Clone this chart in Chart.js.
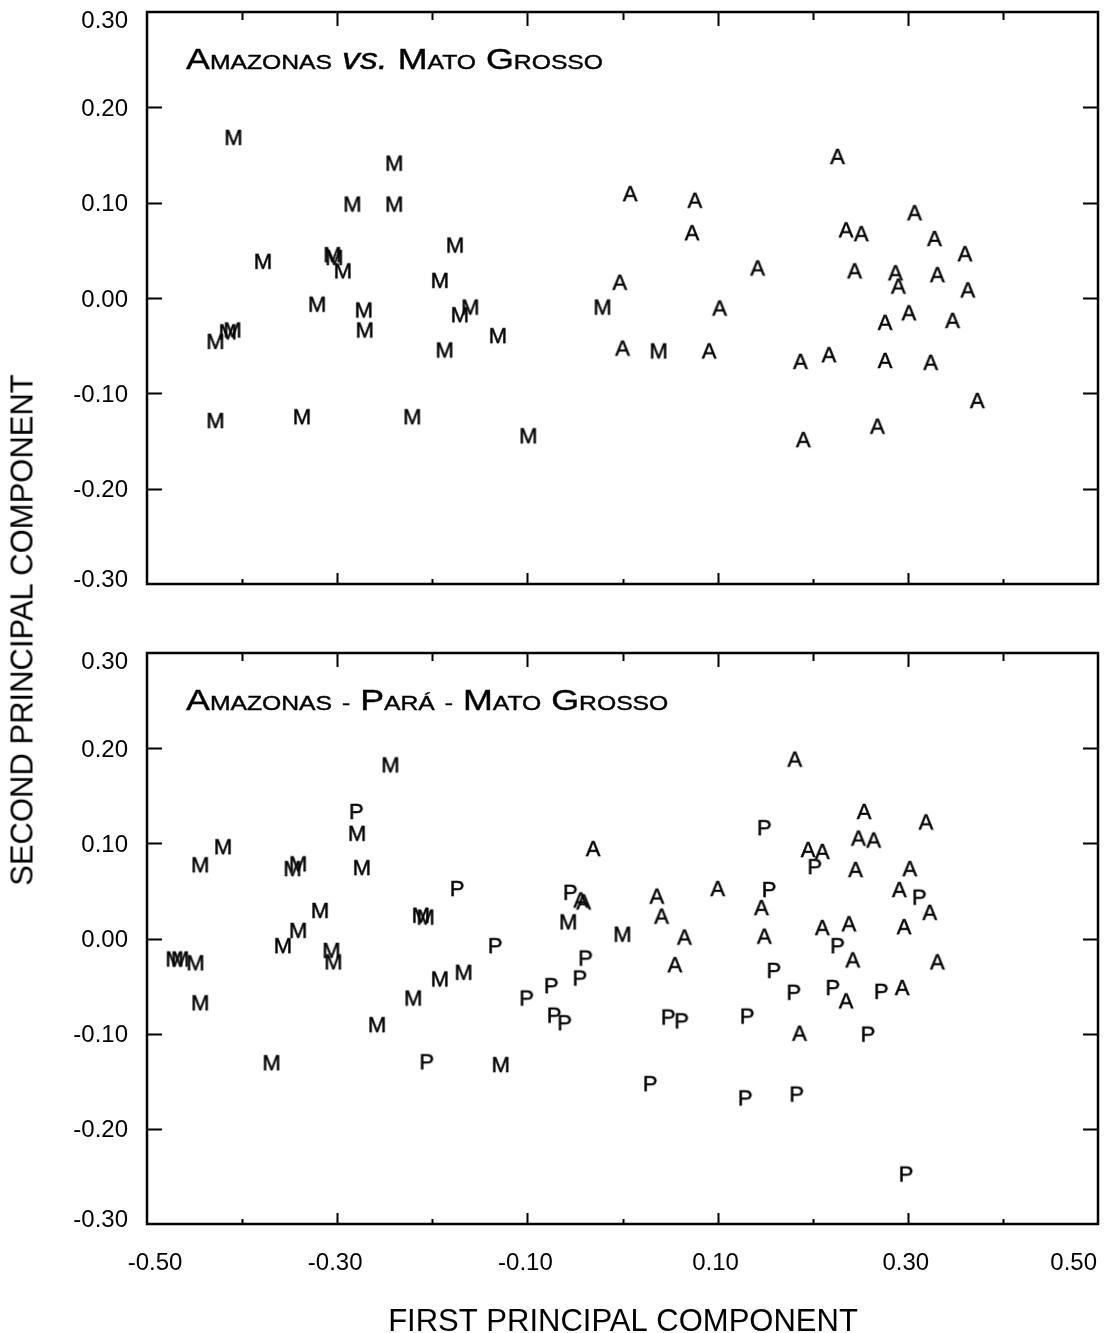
<!DOCTYPE html>
<html>
<head>
<meta charset="utf-8">
<script src="https://cdn.jsdelivr.net/npm/chart.js@4.4.1/dist/chart.umd.min.js"></script>
<style>
  html, body { margin: 0; padding: 0; background: #fff; }
  #page { position: relative; width: 1113px; height: 1333px; overflow: hidden; background: #fff; }
  #page canvas { position: absolute; left: 0; }
  #topPanel { top: 0; }
  #bottomPanel { top: 620px; }
  #yTitle {
    position: absolute; left: 22px; top: 630px;
    transform: translate(-50%, -50%) rotate(-90deg);
    font: 31px "Liberation Sans", Arial, sans-serif;
    color: #000; white-space: nowrap; line-height: 1;
  }
</style>
</head>
<body>
<div id="page">
  <canvas id="topPanel" width="1113" height="620"></canvas>
  <canvas id="bottomPanel" width="1113" height="713"></canvas>
  <div id="yTitle">SECOND PRINCIPAL COMPONENT</div>
</div>
<script>
// ---- axis ticks and labels ----
const xMajorTicks = [-0.30, -0.10, 0.10, 0.30];
const xMinorTicks = [-0.40, -0.20, 0.00, 0.20, 0.40];
const xLabelValues = [-0.50, -0.30, -0.10, 0.10, 0.30, 0.50];
const xLabels = ['-0.50', '-0.30', '-0.10', '0.10', '0.30', '0.50'];
const yTickValues = [0.30, 0.20, 0.10, 0.00, -0.10, -0.20, -0.30];
const yLabels = ['0.30', '0.20', '0.10', '0.00', '-0.10', '-0.20', '-0.30'];
const xAxisTitle = 'FIRST PRINCIPAL COMPONENT';

// ---- panel headings ----
const topHeading = 'Amazonas vs. Mato Grosso';
const bottomHeading = 'Amazonas - Pará - Mato Grosso';

// ---- top panel: Amazonas (A) vs. Mato Grosso (M) ----
const topAmazonas = [
  [0.008, 0.110], [0.076, 0.103], [0.226, 0.149], [0.073, 0.069], [0.307, 0.090],
  [0.235, 0.072], [0.251, 0.068], [0.328, 0.063], [0.360, 0.047], [0.142, 0.032],
  [0.244, 0.029], [0.287, 0.027], [0.290, 0.013], [0.331, 0.025], [0.363, 0.009],
  [-0.003, 0.017], [0.102, -0.010], [0.000, -0.052], [0.091, -0.055], [0.187, -0.066],
  [0.217, -0.059], [0.276, -0.065], [0.324, -0.067], [0.276, -0.025], [0.301, -0.015],
  [0.347, -0.023], [0.373, -0.107], [0.268, -0.134], [0.190, -0.148]
];
const topMatoGrosso = [
  [-0.409, 0.169], [-0.240, 0.142], [-0.284, 0.099], [-0.240, 0.099], [-0.176, 0.056],
  [-0.378, 0.039], [-0.305, 0.046], [-0.303, 0.043], [-0.294, 0.029], [-0.192, 0.019],
  [-0.321, -0.006], [-0.272, -0.012], [-0.271, -0.033], [-0.171, -0.017], [-0.160, -0.009],
  [-0.131, -0.039], [-0.187, -0.054], [-0.021, -0.009], [-0.428, -0.045], [-0.415, -0.035],
  [-0.410, -0.033], [-0.428, -0.128], [-0.337, -0.124], [-0.221, -0.124], [-0.099, -0.144],
  [0.038, -0.055]
];

// ---- bottom panel: Amazonas (A), Pará (P), Mato Grosso (M) ----
const bottomAmazonas = [
  [0.181, 0.189], [0.254, 0.134], [0.319, 0.123], [0.248, 0.106], [0.264, 0.104],
  [0.195, 0.094], [0.210, 0.092], [0.245, 0.073], [0.302, 0.074], [0.100, 0.053],
  [0.146, 0.033], [0.291, 0.052], [0.323, 0.028], [0.036, 0.045], [0.041, 0.024],
  [0.210, 0.012], [0.238, 0.016], [0.296, 0.013], [0.065, 0.002], [0.149, 0.003],
  [0.242, -0.022], [0.331, -0.024], [0.055, -0.027], [0.235, -0.065], [0.294, -0.051],
  [0.186, -0.099], [-0.031, 0.095], [-0.044, 0.041], [-0.041, 0.039]
];
const bottomPara = [
  [-0.280, 0.134], [-0.174, 0.053], [-0.055, 0.049], [-0.134, -0.007], [-0.039, -0.020],
  [-0.045, -0.041], [-0.075, -0.049], [-0.101, -0.062], [-0.072, -0.080], [-0.061, -0.088],
  [-0.206, -0.129], [0.149, 0.117], [0.202, 0.076], [0.154, 0.052], [0.312, 0.044],
  [0.226, -0.007], [0.159, -0.033], [0.180, -0.056], [0.221, -0.051], [0.272, -0.055],
  [0.048, -0.082], [0.062, -0.086], [0.131, -0.081], [0.258, -0.100], [0.029, -0.152],
  [0.129, -0.167], [0.183, -0.163], [0.298, -0.247]
];
const bottomMatoGrosso = [
  [-0.244, 0.183], [-0.279, 0.111], [-0.420, 0.097], [-0.444, 0.078], [-0.347, 0.074],
  [-0.341, 0.079], [-0.274, 0.075], [-0.057, 0.018], [-0.318, 0.030], [-0.341, 0.009],
  [-0.212, 0.025], [-0.207, 0.023], [0.000, 0.005], [-0.357, -0.007], [-0.306, -0.012],
  [-0.304, -0.024], [-0.471, -0.021], [-0.465, -0.021], [-0.449, -0.025], [-0.444, -0.067],
  [-0.369, -0.130], [-0.258, -0.090], [-0.220, -0.062], [-0.192, -0.042], [-0.167, -0.035],
  [-0.128, -0.132]
];

const FONT = '"Liberation Sans", Arial, Helvetica, sans-serif';

// Each observation is plotted as its state letter, centred on the point.
function letterMarker(ch) {
  const size = 22;
  const c = document.createElement('canvas');
  c.width = 32; c.height = 32;
  const g = c.getContext('2d');
  g.fillStyle = '#000';
  g.strokeStyle = '#000';
  g.lineWidth = 0.5;
  g.font = size + 'px ' + FONT;
  g.textAlign = 'center';
  g.textBaseline = 'alphabetic';
  const by = 16 + 0.716 * size / 2;
  g.fillText(ch, 16, by);
  g.strokeText(ch, 16, by);
  return c;
}

function letterSeries(label, ch, pts) {
  return {
    label: label,
    data: pts.map(([x, y]) => ({ x, y })),
    pointStyle: letterMarker(ch),
    pointRadius: 8,
    pointHoverRadius: 8,
    showLine: false,
    clip: false
  };
}

// Small-caps heading: first letter of each word large, the rest smaller capitals.
function drawHeading(ctx, text, x, baseline) {
  const big = 29, small = 20, stretch = 1.235;
  ctx.save();
  ctx.translate(x, baseline);
  ctx.scale(stretch, 1);
  ctx.fillStyle = '#000';
  ctx.strokeStyle = '#000';
  ctx.lineWidth = 0.4;
  ctx.textBaseline = 'alphabetic';
  ctx.textAlign = 'left';
  let cx = 0;
  const put = (t, font) => {
    ctx.font = font;
    ctx.fillText(t, cx, 0);
    ctx.strokeText(t, cx, 0);
    cx += ctx.measureText(t).width;
  };
  const words = text.split(' ');
  words.forEach((w, i) => {
    if (i > 0) put(' ', big + 'px ' + FONT);
    if (w === 'vs.') {
      put(w, 'italic ' + big + 'px ' + FONT);
    } else if (w === '-') {
      put('-', small + 'px ' + FONT);
    } else {
      put(w[0].toUpperCase(), big + 'px ' + FONT);
      if (w.length > 1) put(w.slice(1).toUpperCase(), small + 'px ' + FONT);
    }
  });
  ctx.restore();
}

// Box frame, inward ticks, tick labels and headings, all placed through the chart's scales.
const framePlugin = {
  id: 'panelFrame',
  afterDatasetsDraw(chart, args, opts) {
    const ctx = chart.ctx;
    const { left, right, top, bottom } = chart.chartArea;
    const xs = chart.scales.x, ys = chart.scales.y;
    ctx.save();
    ctx.strokeStyle = '#000';
    ctx.fillStyle = '#000';

    // frame
    ctx.lineWidth = 2.5;
    ctx.strokeRect(left, top, right - left, bottom - top);

    // ticks
    ctx.lineWidth = 2;
    ctx.beginPath();
    yTickValues.forEach(v => {
      if (v === 0.30 || v === -0.30) return;
      const py = Math.round(ys.getPixelForValue(v)) + 0.5;
      ctx.moveTo(left, py); ctx.lineTo(left + 15, py);
      ctx.moveTo(right, py); ctx.lineTo(right - 15, py);
    });
    xMajorTicks.forEach(v => {
      const px = Math.round(xs.getPixelForValue(v)) + 0.5;
      ctx.moveTo(px, top); ctx.lineTo(px, top + 14);
      ctx.moveTo(px, bottom); ctx.lineTo(px, bottom - 11);
    });
    xMinorTicks.forEach(v => {
      const px = Math.round(xs.getPixelForValue(v)) + 0.5;
      ctx.moveTo(px, top); ctx.lineTo(px, top + 8);
      ctx.moveTo(px, bottom); ctx.lineTo(px, bottom - 5);
    });
    ctx.stroke();

    // y tick labels
    ctx.font = '24px ' + FONT;
    ctx.textAlign = 'right';
    ctx.textBaseline = 'alphabetic';
    yTickValues.forEach((v, i) => {
      let py = ys.getPixelForValue(v);
      if (i === 0) py += 7;
      if (i === yTickValues.length - 1) py -= 6;
      ctx.fillText(yLabels[i], 128, py + 8.6);
    });

    // x tick labels and axis title (bottom panel only)
    if (opts.xLabels) {
      xLabelValues.forEach((v, i) => {
        let px = xs.getPixelForValue(v) - 2;
        ctx.textAlign = 'center';
        if (i === 0) px += 10;
        if (i === xLabelValues.length - 1) { ctx.textAlign = 'right'; px += 1; }
        ctx.fillText(xLabels[i], px, bottom + 46);
      });
      ctx.font = '31px ' + FONT;
      ctx.textAlign = 'center';
      ctx.fillText(xAxisTitle, 623, bottom + 107);
    }

    drawHeading(ctx, opts.heading, 186, top + 57);
    ctx.restore();
  }
};

function makePanel(canvasId, datasets, heading, padding, xLabelsOn) {
  return new Chart(document.getElementById(canvasId), {
    type: 'scatter',
    data: { datasets: datasets },
    options: {
      responsive: false,
      animation: false,
      devicePixelRatio: 1,
      layout: { padding: padding },
      scales: {
        x: { type: 'linear', min: -0.5, max: 0.5, display: false },
        y: { type: 'linear', min: -0.3, max: 0.3, display: false }
      },
      plugins: {
        legend: { display: false },
        tooltip: { enabled: false },
        panelFrame: { heading: heading, xLabels: xLabelsOn }
      }
    },
    plugins: [framePlugin]
  });
}

makePanel('topPanel', [
  letterSeries('Amazonas', 'A', topAmazonas),
  letterSeries('Mato Grosso', 'M', topMatoGrosso)
], topHeading, { left: 147, right: 15, top: 12, bottom: 36 }, false);

makePanel('bottomPanel', [
  letterSeries('Amazonas', 'A', bottomAmazonas),
  letterSeries('Pará', 'P', bottomPara),
  letterSeries('Mato Grosso', 'M', bottomMatoGrosso)
], bottomHeading, { left: 147, right: 15, top: 33, bottom: 109 }, true);
</script>
</body>
</html>
